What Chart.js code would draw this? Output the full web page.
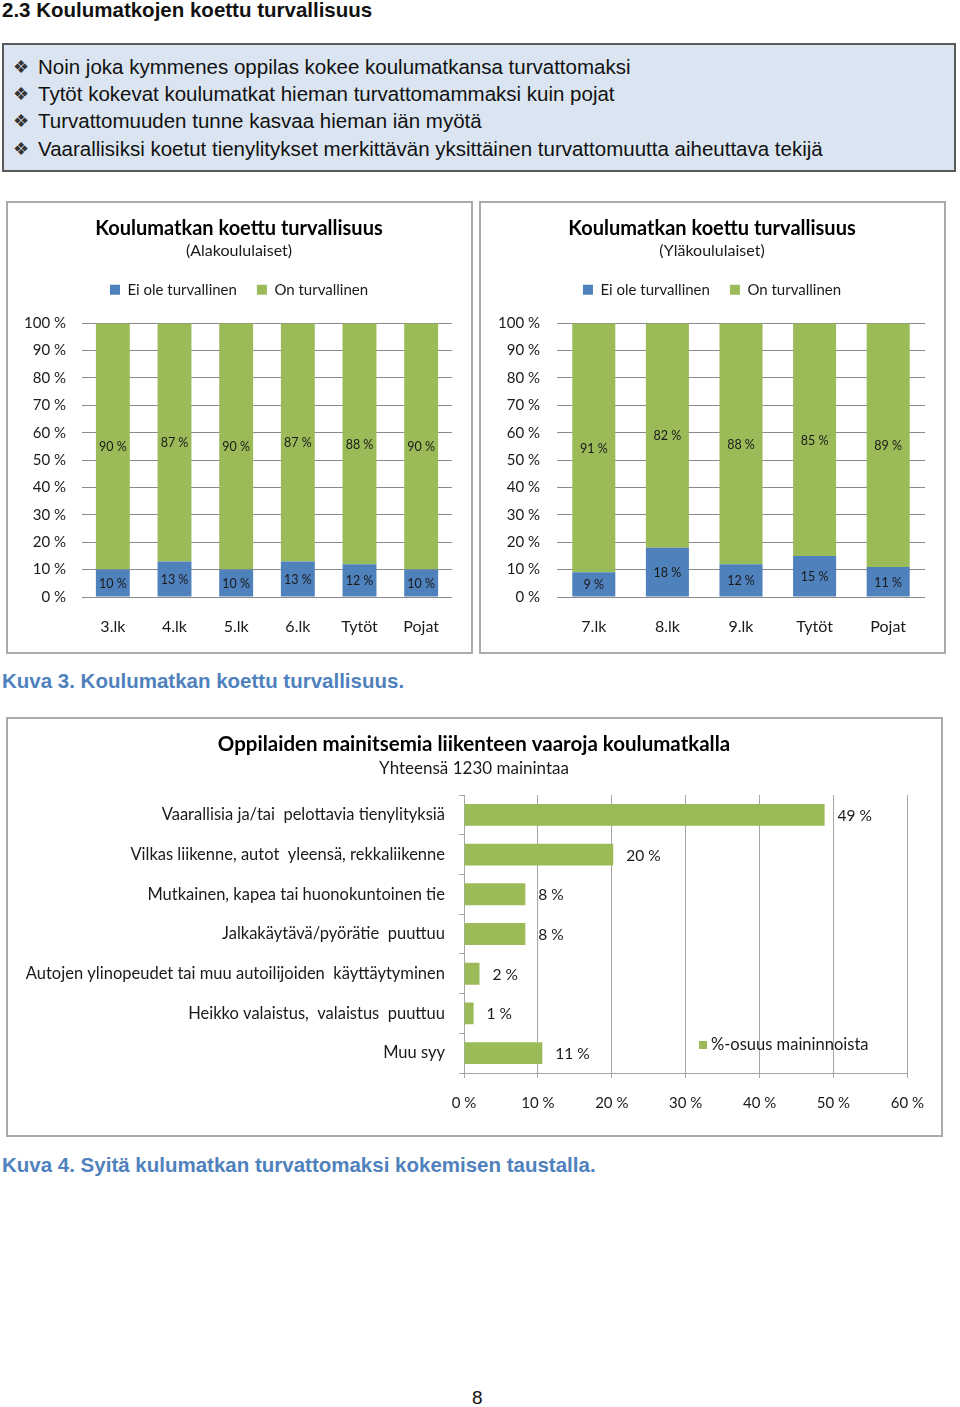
<!DOCTYPE html>
<html>
<head>
<meta charset="utf-8">
<script src="https://cdn.jsdelivr.net/npm/chart.js@4"></script>
<style>
  body { margin: 0; background: #fff; }
  #page { position: relative; width: 960px; height: 1407px; overflow: hidden; font-family: 'Liberation Sans', Arial, sans-serif; }
  .abs { position: absolute; }
  #heading { left: 2px; top: 0px; font-weight: bold; font-size: 20.5px; line-height: 20px; color: #111; }
  #box { left: 2px; top: 43px; width: 950px; height: 125px; border: 2px solid #5a5a5a; background: #dbe5f1; }
  #box div { position: absolute; left: 34px; font-size: 20.5px; line-height: 24px; color: #111; white-space: nowrap; }
  #box span.b { position: absolute; left: -25px; top: 0px; font-family: 'DejaVu Sans'; font-size: 18px; color: #333; }
  .panel { border: 2px solid #ababab; box-sizing: border-box; }
  .caption { left: 2px; font-weight: bold; font-size: 20.5px; line-height: 22px; color: #4f81bd; }
  #pagenum { left: 472px; top: 1387px; font-size: 19px; color: #111; }
</style>
</head>
<body>
<div id="page">
  <div id="heading" class="abs">2.3 Koulumatkojen koettu turvallisuus</div>
  <div id="box" class="abs">
    <div style="top:10px"><span class="b">❖</span>Noin joka kymmenes oppilas kokee koulumatkansa turvattomaksi</div>
    <div style="top:37px"><span class="b">❖</span>Tytöt kokevat koulumatkat hieman turvattomammaksi kuin pojat</div>
    <div style="top:64px"><span class="b">❖</span>Turvattomuuden tunne kasvaa hieman iän myötä</div>
    <div style="top:92px"><span class="b">❖</span>Vaarallisiksi koetut tienylitykset merkittävän yksittäinen turvattomuutta aiheuttava tekijä</div>
  </div>

  <div class="abs panel" style="left:6px; top:201px; width:467px; height:453px;"></div>
  <canvas id="c1" class="abs" width="462" height="448" style="left:8px; top:203px;"></canvas>

  <div class="abs panel" style="left:479px; top:201px; width:467px; height:453px;"></div>
  <canvas id="c2" class="abs" width="462" height="448" style="left:481px; top:203px;"></canvas>

  <div class="abs caption" style="top:670px;">Kuva 3. Koulumatkan koettu turvallisuus.</div>

  <div class="abs panel" style="left:6px; top:717px; width:937px; height:420px;"></div>
  <canvas id="c3" class="abs" width="932" height="415" style="left:8px; top:719px;"></canvas>

  <div class="abs caption" style="top:1154px;">Kuva 4. Syitä kulumatkan turvattomaksi kokemisen taustalla.</div>

  <div id="pagenum" class="abs">8</div>
</div>

<script>
// ---- data ----
const ALA_LABELS = ['3.lk', '4.lk', '5.lk', '6.lk', 'Tytöt', 'Pojat'];
const ALA_UNSAFE = [10, 13, 10, 13, 12, 10];
const ALA_SAFE   = [90, 87, 90, 87, 88, 90];

const YLA_LABELS = ['7.lk', '8.lk', '9.lk', 'Tytöt', 'Pojat'];
const YLA_UNSAFE = [9, 18, 12, 15, 11];
const YLA_SAFE   = [91, 82, 88, 85, 89];

const SERIES_NAMES = ['Ei ole turvallinen', 'On turvallinen'];

const HAZARD_LABELS = [
  'Vaarallisia ja/tai  pelottavia tienylityksiä',
  'Vilkas liikenne, autot  yleensä, rekkaliikenne',
  'Mutkainen, kapea tai huonokuntoinen tie',
  'Jalkakäytävä/pyörätie  puuttuu',
  'Autojen ylinopeudet tai muu autoilijoiden  käyttäytyminen',
  'Heikko valaistus,  valaistus  puuttuu',
  'Muu syy',
];
const HAZARD_SHARE = [48.8, 20.2, 8.3, 8.3, 2.1, 1.3, 10.6];
const HAZARD_SERIES = '%-osuus maininnoista';

const BLUE = '#4f81bd';
const GREEN = '#9bbb59';
const GRID = '#8a8a8a';
const TEXT = '#1a1a1a';
const FONT = "Lato, 'Open Sans', sans-serif";

Chart.defaults.font.family = FONT;
Chart.defaults.color = TEXT;
Chart.defaults.animation = false;

const pct = (v) => Math.round(v) + ' %';

// empty layout box, used to leave room next to the plot without
// shifting the centred titles
function spacer(position, size) {
  return {
    id: 'spacer_' + position,
    beforeInit(chart) {
      const box = {
        position, weight: 0, fullSize: false, options: {},
        isHorizontal: () => position === 'top' || position === 'bottom',
        update(maxW, maxH) {
          if (this.isHorizontal()) { this.width = maxW; this.height = size; }
          else { this.width = size; this.height = maxH; }
        },
        draw() {},
      };
      if (Chart.layouts) Chart.layouts.addBox(chart, box);
    },
  };
}

// draws the value labels on each bar
function barLabels(mode, font, offset) {
  return {
    id: 'barLabels_' + mode,
    afterDatasetsDraw(chart) {
      const ctx = chart.ctx;
      ctx.save();
      ctx.font = font;
      ctx.fillStyle = TEXT;
      ctx.textBaseline = 'middle';
      chart.data.datasets.forEach((ds, i) => {
        chart.getDatasetMeta(i).data.forEach((bar, j) => {
          const txt = pct(ds.data[j]);
          if (mode === 'end') {
            ctx.textAlign = 'left';
            ctx.fillText(txt, bar.x + offset, bar.y + 1);
          } else {
            ctx.textAlign = 'center';
            ctx.fillText(txt, bar.x, (bar.y + bar.base) / 2 + 1);
          }
        });
      });
      ctx.restore();
    },
  };
}

// ── stacked column charts ────────────────────────────
function stackedChart(id, title, sub, labels, unsafe, safe, barPct, yWidth, tickPad) {
  return new Chart(document.getElementById(id), {
    type: 'bar',
    data: {
      labels,
      datasets: [
        { label: SERIES_NAMES[0], data: unsafe, backgroundColor: BLUE, borderWidth: 0 },
        { label: SERIES_NAMES[1], data: safe, backgroundColor: GREEN, borderWidth: 0 },
      ],
    },
    options: {
      responsive: false,
      layout: { padding: 0 },
      datasets: { bar: { barPercentage: barPct, categoryPercentage: 1 } },
      plugins: {
        title: { display: true, text: title, font: { size: 20, weight: 'bold' }, color: '#000', padding: { top: 14, bottom: 0 } },
        subtitle: { display: true, text: sub, font: { size: 16 }, color: TEXT, padding: { top: 0, bottom: 2 } },
        legend: {
          labels: { boxWidth: 10, boxHeight: 10, font: { size: 15 }, color: TEXT, padding: 20 },
        },
        tooltip: { enabled: false },
      },
      scales: {
        x: {
          stacked: true,
          grid: { display: false },
          border: { display: false },
          ticks: { font: { size: 16 }, color: TEXT, padding: 12 },
          afterFit: (s) => { s.height = 54; },
        },
        y: {
          stacked: true,
          min: 0, max: 100,
          ticks: { stepSize: 10, font: { size: 15 }, color: TEXT, padding: tickPad, callback: (v) => v + ' %' },
          grid: { color: GRID, drawTicks: false },
          border: { display: false },
          afterFit: (s) => { s.width = yWidth; },
        },
      },
    },
    plugins: [barLabels('center', '12.5px ' + FONT), spacer('top', 16), spacer('right', 18)],
  });
}

stackedChart('c1', 'Koulumatkan koettu turvallisuus', '(Alakoululaiset)',
  ALA_LABELS, ALA_UNSAFE, ALA_SAFE, 0.55, 74, 16);
stackedChart('c2', 'Koulumatkan koettu turvallisuus', '(Yläkoululaiset)',
  YLA_LABELS, YLA_UNSAFE, YLA_SAFE, 0.585, 76, 17);

// ── horizontal bar chart ─────────────────────────────
const inPlotLegend = {
  id: 'inPlotLegend',
  afterDraw(chart) {
    const { ctx, chartArea } = chart;
    const x = chartArea.left + (chartArea.right - chartArea.left) * 0.53;
    const y = chartArea.bottom - 28;
    ctx.save();
    ctx.fillStyle = GREEN;
    ctx.fillRect(x, y - 4, 8, 8);
    ctx.fillStyle = TEXT;
    ctx.font = '16.5px ' + FONT;
    ctx.textBaseline = 'middle';
    ctx.fillText(HAZARD_SERIES, x + 12, y);
    ctx.restore();
  },
};

new Chart(document.getElementById('c3'), {
  type: 'bar',
  data: {
    labels: HAZARD_LABELS,
    datasets: [{ label: HAZARD_SERIES, data: HAZARD_SHARE, backgroundColor: GREEN, borderWidth: 0 }],
  },
  options: {
    responsive: false,
    indexAxis: 'y',
    layout: { padding: 0 },
    datasets: { bar: { barPercentage: 0.55, categoryPercentage: 1 } },
    plugins: {
      title: { display: true, text: 'Oppilaiden mainitsemia liikenteen vaaroja koulumatkalla', font: { size: 20.5, weight: 'bold' }, color: '#000', padding: { top: 13, bottom: 2 } },
      subtitle: { display: true, text: 'Yhteensä 1230 mainintaa', font: { size: 17 }, color: TEXT, padding: { top: 0, bottom: 16 } },
      legend: { display: false },
      tooltip: { enabled: false },
    },
    scales: {
      x: {
        min: 0, max: 60,
        ticks: { stepSize: 10, font: { size: 15 }, color: TEXT, padding: 16, callback: (v) => v + ' %' },
        grid: { color: '#a6a6a6', tickLength: 5 },
        border: { color: '#a6a6a6' },
        afterFit: (s) => { s.height = 61; },
      },
      y: {
        ticks: { font: { size: 16.5 }, color: TEXT, padding: 14 },
        grid: { drawOnChartArea: false, color: '#a6a6a6', tickLength: 5 },
        border: { color: '#a6a6a6' },
        afterFit: (s) => { s.width = 456; },
      },
    },
  },
  plugins: [barLabels('end', '15.5px ' + FONT, 13), inPlotLegend, spacer('right', 30)],
});
</script>
</body>
</html>
